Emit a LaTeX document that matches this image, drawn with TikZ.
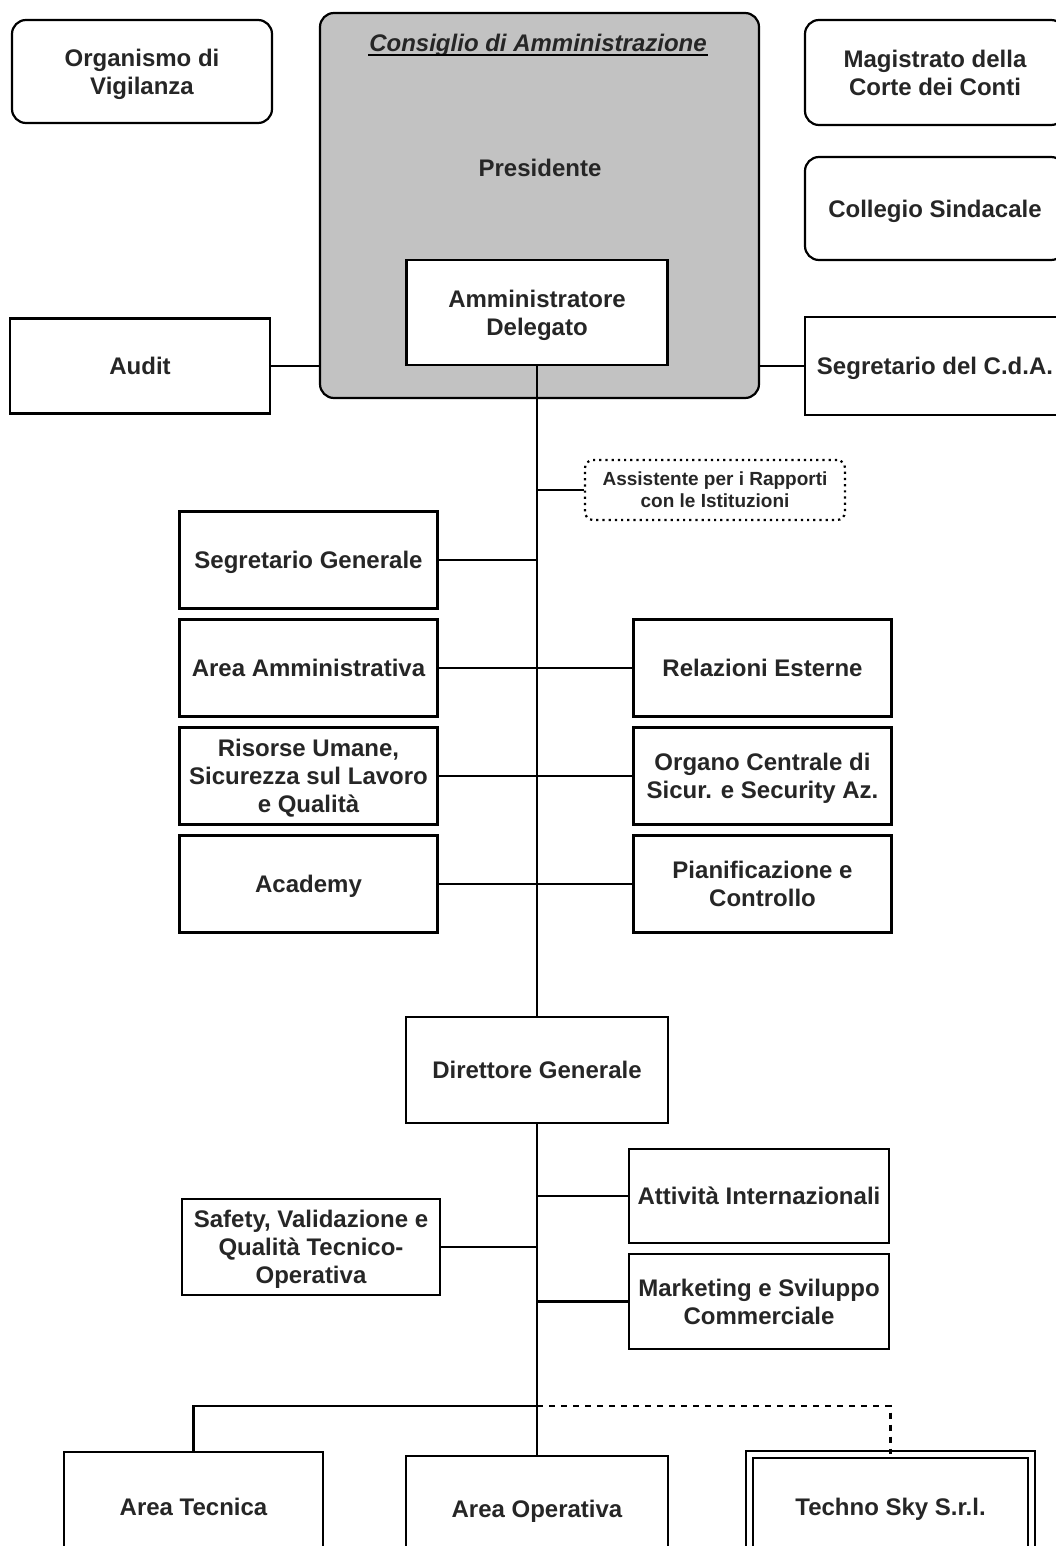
\documentclass[tikz,border=0pt]{standalone}
\usepackage{fontspec}
\setmainfont{Liberation Sans}
\definecolor{cdagray}{gray}{0.76}
\begin{document}
\begin{tikzpicture}[x=0.5pt,y=-0.5pt,line width=1.1pt,
  txt/.style={font=\bfseries\fontsize{12}{14}\selectfont,align=center,text=black!85},
  box/.style={txt,draw,line width=1.1pt,minimum width=129pt,minimum height=48.5pt,inner sep=1pt,text depth=0pt},
  rbox/.style={box,rounded corners=7pt}]
\useasboundingbox (0,0) rectangle (1055,1546);
\node (cda) at (539.5,205.5) [rbox,fill=cdagray,minimum width=219.5pt,minimum height=192.5pt] {};
\node (cdatitle) at (538,45) [txt,inner sep=0pt] {\itshape Consiglio di Amministrazione};
\draw[line width=1pt] ([yshift=-2pt]cdatitle.base west) -- ([yshift=-2pt]cdatitle.base east);
\node (pres) at (540,168) [txt] {Presidente};
\node (ad) at (537,312.5) [box,fill=white,minimum width=130.5pt,minimum height=52.5pt] {Amministratore\\Delegato};
\node (ov) at (142,71.5) [rbox,minimum width=130pt,minimum height=51.5pt] {Organismo di\\Vigilanza};
\node (mag) at (935,72.5) [rbox,minimum width=130pt,minimum height=52.5pt] {Magistrato della\\Corte dei Conti};
\node (col) at (935,208.5) [rbox,minimum width=130pt,minimum height=51.5pt] {Collegio Sindacale};
\node (audit) at (140,366) [box,minimum width=130pt,minimum height=47.5pt] {Audit};
\node (scda) at (935,366) [box,minimum width=130pt,minimum height=49pt] {Segretario del C.d.A.};
\draw (audit.east) -- (audit.east -| cda.west);
\draw (scda.west) -- (scda.west -| cda.east);

\node (ass) at (715,490) [txt,draw,dotted,rounded corners=4pt,minimum width=130pt,minimum height=30pt,text depth=0pt,
  font=\bfseries\fontsize{9.5}{11}\selectfont] {Assistente per i Rapporti\\con le Istituzioni};
\node (sg) at (308.5,560) [box] {Segretario Generale};
\node (aa) at (308.5,668) [box] {Area Amministrativa};
\node (ru) at (308.5,776) [box] {Risorse Umane,\\Sicurezza sul Lavoro\\e Qualità};
\node (acad) at (308.5,884) [box] {Academy};
\node (re) at (762.5,668) [box] {Relazioni Esterne};
\node (oc) at (762.5,776) [box] {Organo Centrale di\\Sicur. e Security Az.};
\node (pc) at (762.5,884) [box] {Pianificazione e\\Controllo};

\node (dg) at (537,1070) [box,minimum width=131pt,minimum height=53pt] {Direttore Generale};
\draw (ad.south) -- (dg.north);
\draw (ass.west) -- (ass.west -| ad.south);
\draw (sg.east) -- (sg.east -| ad.south);
\draw (aa.east) -- (re.west);
\draw (ru.east) -- (oc.west);
\draw (acad.east) -- (pc.west);

\node (ai) at (759,1196) [box,minimum width=130pt,minimum height=47pt] {Attività Internazionali};
\node (mk) at (759,1301.5) [box,minimum width=130pt,minimum height=47.5pt] {Marketing e Sviluppo\\Commerciale};
\node (saf) at (311,1247) [box,minimum height=48pt] {Safety, Validazione e\\Qualità Tecnico-\\Operativa};
\draw (ai.west) -- (ai.west -| dg.south);
\draw (mk.west) -- (mk.west -| dg.south);
\draw (saf.east) -- (saf.east -| dg.south);

\node (at) at (193.5,1507) [box,minimum width=129.5pt,minimum height=55pt] {Area Tecnica};
\node (ao) at (537,1509) [box,minimum width=131pt,minimum height=53pt] {Area Operativa};
\node (ts) at (890.5,1507) [box,double,double distance=2.5pt,line width=0.8pt,minimum width=141pt,minimum height=52.5pt] {Techno Sky S.r.l.};
\coordinate (bus) at (537,1406);
\draw (dg.south) -- (ao.north);
\draw (at.north) |- (bus);
\draw[dashed] (bus) -| (ts.north);
\end{tikzpicture}
\end{document}
